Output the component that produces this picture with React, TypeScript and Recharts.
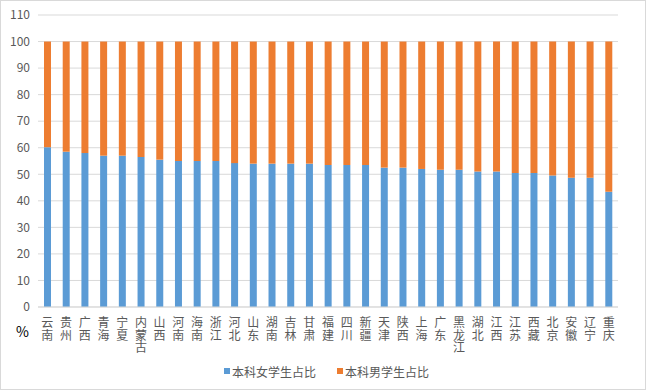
import { BarChart, Bar, XAxis, YAxis, CartesianGrid, Legend } from "recharts";

const provinces = [
  "云南", "贵州", "广西", "青海", "宁夏", "内蒙古", "山西", "河南", "海南", "浙江",
  "河北", "山东", "湖南", "吉林", "甘肃", "福建", "四川", "新疆", "天津", "陕西",
  "上海", "广东", "黑龙江", "湖北", "江西", "江苏", "西藏", "北京", "安徽", "辽宁", "重庆",
];

const femaleShare = [
  60.2, 58.5, 58.0, 57.0, 57.0, 56.5, 55.5, 55.0, 55.0, 55.0,
  54.2, 54.0, 54.0, 54.0, 54.0, 53.5, 53.5, 53.5, 52.5, 52.5,
  52.0, 51.7, 51.7, 51.0, 51.0, 50.5, 50.5, 49.5, 48.7, 48.7, 43.4,
];

const maleShare = femaleShare.map((v) => Math.round((100 - v) * 10) / 10);

const yTicks = [0, 10, 20, 30, 40, 50, 60, 70, 80, 90, 100, 110];

const data = provinces.map((name, i) => ({
  name,
  female: femaleShare[i],
  male: maleShare[i],
}));

const FONT = '"Noto Sans CJK SC", "Noto Sans", sans-serif';
const BLUE = "#5B9BD5";
const ORANGE = "#ED7D31";

function VerticalTick(props: any) {
  const { x, y, payload } = props;
  const chars = String(payload.value).split("");
  return (
    <text x={x} y={y} textAnchor="middle" fill="#595959" fontSize={12} fontFamily={FONT}>
      {chars.map((c, i) => (
        <tspan key={i} x={x} dy={i === 0 ? 14 : 12.5}>
          {c}
        </tspan>
      ))}
    </text>
  );
}

function LegendContent() {
  const items = [
    { label: "本科女学生占比", color: BLUE },
    { label: "本科男学生占比", color: ORANGE },
  ];
  return (
    <div
      style={{
        height: 28,
        display: "flex",
        justifyContent: "center",
        alignItems: "center",
        gap: 21,
        paddingLeft: 27,
        fontFamily: FONT,
        fontSize: 12,
        color: "#595959",
      }}
    >
      {items.map((it) => (
        <div key={it.label} style={{ display: "flex", alignItems: "center" }}>
          <span style={{ width: 6, height: 6, background: it.color, marginRight: 2 }} />
          <span>{it.label}</span>
        </div>
      ))}
    </div>
  );
}

export default function App() {
  return (
    <div
      style={{
        position: "fixed",
        left: 0,
        top: 0,
        width: 646,
        height: 390,
        boxSizing: "border-box",
        border: "1px solid #d9d9d9",
        background: "#fff",
      }}
    >
      <BarChart
        width={644}
        height={388}
        data={data}
        margin={{ top: 14, right: 27, left: 7, bottom: 4 }}
        barSize={7}
      >
        <CartesianGrid vertical={false} stroke="#d9d9d9" />
        <XAxis
          dataKey="name"
          interval={0}
          height={50}
          tickLine={false}
          axisLine={{ stroke: "#d9d9d9" }}
          tick={<VerticalTick />}
          tickMargin={0}
          label={{
            value: "%",
            position: "left",
            offset: 9,
            fill: "#000",
            fontSize: 14,
            fontFamily: FONT,
          }}
        />
        <YAxis
          width={30}
          domain={[0, 110]}
          ticks={yTicks}
          interval={0}
          axisLine={false}
          tickLine={false}
          tick={{ fill: "#595959", fontSize: 12, fontFamily: FONT }}
        />
        <Legend verticalAlign="bottom" content={<LegendContent />} />
        <Bar dataKey="female" name="本科女学生占比" stackId="a" fill={BLUE} isAnimationActive={false} />
        <Bar dataKey="male" name="本科男学生占比" stackId="a" fill={ORANGE} isAnimationActive={false} />
      </BarChart>
    </div>
  );
}
